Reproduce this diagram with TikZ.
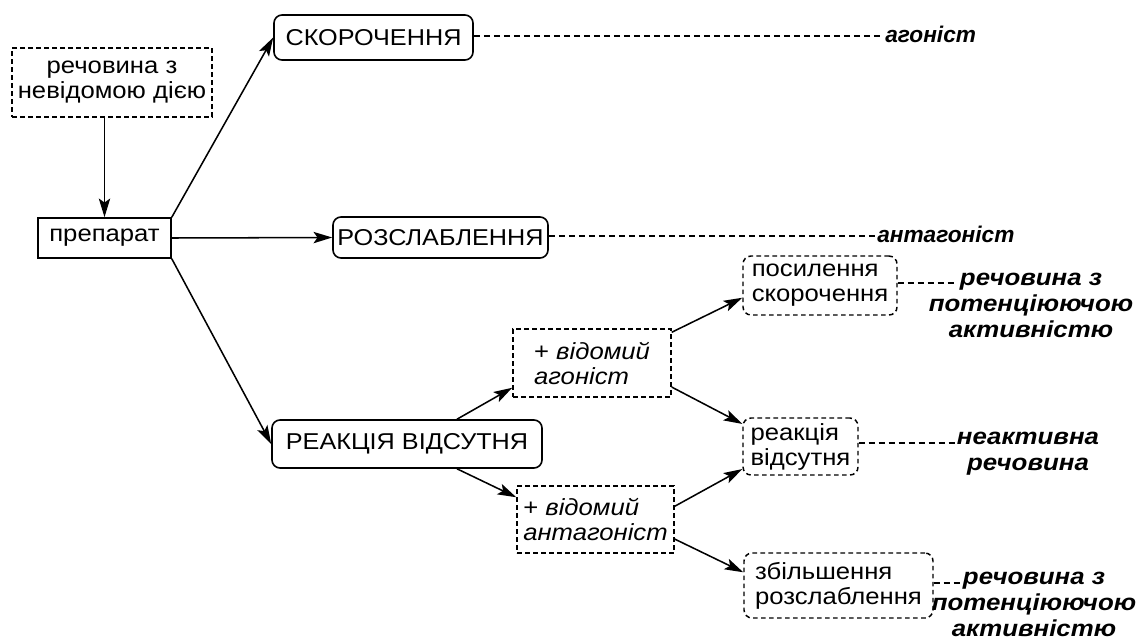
\documentclass[tikz,border=0pt]{standalone}
\usepackage{fontspec}
\setmainfont{Liberation Sans}[FakeStretch=1.1]
\newfontfamily\labfont{Liberation Sans}
\newfontfamily\labfontwide{Liberation Sans}[FakeStretch=1.12]
\usetikzlibrary{arrows.meta}
\begin{document}
\begin{tikzpicture}[x=0.75pt,y=-0.75pt,
  every node/.style={font=\fontsize{17.5}{18.75}\selectfont, inner sep=0pt, align=center},
  box/.style={draw, line width=1.2pt},
  rbox/.style={box, rounded corners=6pt},
  caps/.style={font=\fontsize{17.2}{20}\selectfont},
  dbox/.style={box, dash pattern=on 3.5pt off 2.5pt, line width=1.1pt},
  drbox/.style={dbox, rounded corners=6pt},
  lab/.style={font=\labfont\fontsize{17}{19.5}\selectfont\bfseries\itshape},
  labw/.style={font=\labfontwide\fontsize{17.3}{19.5}\selectfont\bfseries\itshape},
  arr/.style={-{Stealth[length=14pt,width=8.5pt,inset=3pt]}, line width=1.15pt},
  dl/.style={dash pattern=on 4.5pt off 3pt, line width=1.1pt}]
\useasboundingbox (0,0) rectangle (1136,643);
% nodes
\node[dbox, minimum width=150pt, minimum height=51.75pt] (unk) at (112,82.5) {речовина з\\невідомою дією};
\node[box, minimum width=99.75pt, minimum height=30pt] (prep) at (104.5,238) {препарат};
\node[rbox, caps, minimum width=149.25pt, minimum height=33.75pt] (skor) at (373.5,37.5) {СКОРОЧЕННЯ};
\node[rbox, caps, minimum width=161.25pt, minimum height=30.75pt] (rozs) at (440.5,237.5) {РОЗСЛАБЛЕННЯ};
\node[rbox, caps, minimum width=202.5pt, minimum height=36pt] (reak) at (407,444) {РЕАКЦІЯ ВІДСУТНЯ};
\node[dbox, minimum width=118.5pt, minimum height=51pt, align=left] (ag) at (592,363) {+ \textit{відомий}\\\textit{агоніст}};
\node[dbox, minimum width=117.75pt, minimum height=50.25pt, align=left] (antag) at (595.5,519.5) {+ \textit{відомий}\\\textit{антагоніст}};
\node[drbox, minimum width=115.5pt, minimum height=44.25pt, align=left] (pos) at (820,285.5) {посилення\\скорочення};
\node[drbox, minimum width=86.25pt, minimum height=42.75pt, align=left] (rv) at (800.5,446.5) {реакція\\відсутня};
\node[drbox, minimum width=141.75pt, minimum height=48.75pt, align=left] (zb) at (838.5,585.5) {збільшення\\розслаблення};
% labels
\node[lab, anchor=west] (l1) at (885,34) {агоніст};
\node[lab, anchor=west] (l2) at (877,234) {антагоніст};
\node[labw, anchor=north] (l3) at (1031,273) {речовина з\\потенціюючою\\активністю};
\node[labw, anchor=north] (l4) at (1028,432) {неактивна\\речовина};
\node[labw, anchor=north] (l5) at (1034,572) {речовина з\\потенціюючою\\активністю};
\coordinate (e1) at (883,36);
\coordinate (e2) at (875,236);
\coordinate (e3) at (957,283);
\coordinate (e4) at (957,443);
\coordinate (e5) at (963,583);
% arrows
\draw[arr] (prep.north |- unk.south) -- (prep.north);
\draw[arr] (prep.north east) -- (skor.west);
\draw[arr] (prep.east) -- (rozs.west);
\draw[arr] (prep.south east) -- (reak.west);
\draw[arr] ([xshift=37.5pt]reak.north) -- ([yshift=7.5pt]ag.south west);
\draw[arr] ([xshift=37.5pt]reak.south) -- ([yshift=-9pt]antag.north west);
\draw[arr] ([yshift=-3pt]ag.north east) -- ([yshift=13.5pt]pos.south west);
\draw[arr] ([yshift=8pt]ag.south east) -- ([yshift=-5pt]rv.north west);
\draw[arr] ([yshift=-15.75pt]antag.north east) -- ([yshift=5pt]rv.south west);
\draw[arr] ([yshift=11pt]antag.south east) -- ([yshift=-15pt]zb.north west);
% dashed leaders
\draw[dl] (skor.east |- e1) -- (e1);
\draw[dl] (rozs.east |- e2) -- (e2);
\draw[dl] (pos.east |- e3) -- (e3);
\draw[dl] (rv.east |- e4) -- (e4);
\draw[dl] (zb.east |- e5) -- (e5);
\end{tikzpicture}
\end{document}
